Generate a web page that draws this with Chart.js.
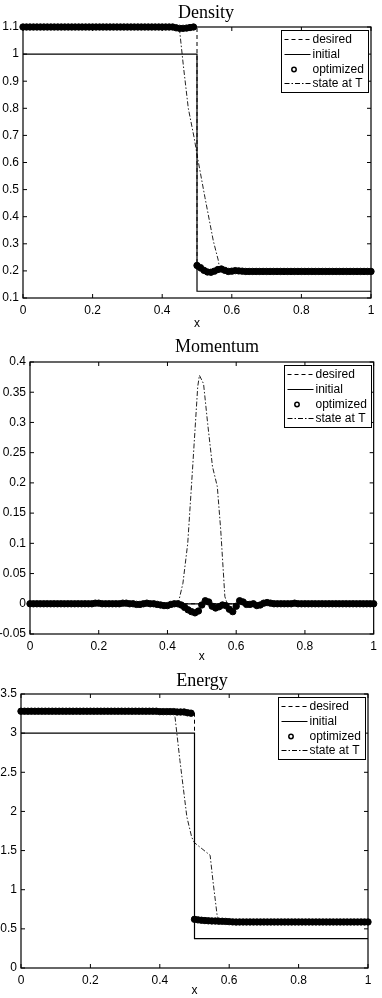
<!DOCTYPE html>
<html>
<head>
<meta charset="utf-8">
<script src="https://cdn.jsdelivr.net/npm/chart.js@4.4.0/dist/chart.umd.min.js"></script>
<style>
  html, body { margin: 0; padding: 0; background: #fff; overflow: hidden; }
  canvas { position: absolute; left: 0; }
</style>
</head>
<body>
<canvas id="c1" width="382" height="331" style="top:0px"></canvas>
<canvas id="c2" width="382" height="334" style="top:330px"></canvas>
<canvas id="c3" width="382" height="338" style="top:660px"></canvas>
<script>
// grid used for the optimized markers
const gridX = [
  0, 0.01, 0.02, 0.03, 0.04, 0.05, 0.06, 0.07, 0.08, 0.09,
  0.1, 0.11, 0.12, 0.13, 0.14, 0.15, 0.16, 0.17, 0.18, 0.19,
  0.2, 0.21, 0.22, 0.23, 0.24, 0.25, 0.26, 0.27, 0.28, 0.29,
  0.3, 0.31, 0.32, 0.33, 0.34, 0.35, 0.36, 0.37, 0.38, 0.39,
  0.4, 0.41, 0.42, 0.43, 0.44, 0.45, 0.46, 0.47, 0.48, 0.49,
  0.5, 0.51, 0.52, 0.53, 0.54, 0.55, 0.56, 0.57, 0.58, 0.59,
  0.6, 0.61, 0.62, 0.63, 0.64, 0.65, 0.66, 0.67, 0.68, 0.69,
  0.7, 0.71, 0.72, 0.73, 0.74, 0.75, 0.76, 0.77, 0.78, 0.79,
  0.8, 0.81, 0.82, 0.83, 0.84, 0.85, 0.86, 0.87, 0.88, 0.89,
  0.9, 0.91, 0.92, 0.93, 0.94, 0.95, 0.96, 0.97, 0.98, 0.99, 1
];

// Density
const densInitX = [0, 0.5, 0.5, 1];
const densInitY = [1, 1, 0.125, 0.125];
const densDesX = [0, 0.5, 0.5, 1];
const densDesY = [1.1, 1.1, 0.2, 0.2];
const densStateX = [0, 0.449, 0.461, 0.475, 0.492, 0.502, 0.523, 0.547, 0.561, 0.566, 1];
const densStateY = [1.1, 1.1, 0.955, 0.8, 0.69, 0.615, 0.47, 0.31, 0.24, 0.2, 0.2];
const densOpt = [
  1.1, 1.1, 1.1, 1.1, 1.1, 1.1, 1.1, 1.1, 1.1, 1.1,
  1.1, 1.1, 1.1, 1.1, 1.1, 1.1, 1.1, 1.1, 1.1, 1.1,
  1.1, 1.1, 1.1, 1.1, 1.1, 1.1, 1.1, 1.1, 1.1, 1.1,
  1.1, 1.1, 1.1, 1.1, 1.1, 1.1, 1.1, 1.1, 1.1, 1.1,
  1.1, 1.1, 1.1, 1.1, 1.097, 1.095, 1.095, 1.096, 1.098, 1.1,
  0.22, 0.212, 0.202, 0.196, 0.195, 0.199, 0.205, 0.207, 0.202, 0.198,
  0.199, 0.201, 0.2, 0.199, 0.198, 0.198, 0.198, 0.198, 0.198, 0.198,
  0.198, 0.198, 0.198, 0.198, 0.198, 0.198, 0.198, 0.198, 0.198, 0.198,
  0.198, 0.198, 0.198, 0.198, 0.198, 0.198, 0.198, 0.198, 0.198, 0.198,
  0.198, 0.198, 0.198, 0.198, 0.198, 0.198, 0.198, 0.198, 0.198, 0.198, 0.198
];
const densYRange = [0.1, 1.1, 0.1]; // min, max, step

// Momentum
const momInitX = [0, 1];
const momInitY = [0, 0];
const momDesX = [0, 1];
const momDesY = [0, 0];
const momStateX = [0, 0.431, 0.445, 0.459, 0.474, 0.488, 0.493, 0.505, 0.517, 0.531, 0.545, 0.555, 0.567, 0.574, 1];
const momStateY = [0, 0, 0.034, 0.1, 0.232, 0.359, 0.378, 0.364, 0.298, 0.227, 0.194, 0.122, 0.012, 0, 0];
const momOpt = [
  0, 0, 0, 0, 0, 0, 0, 0, 0, 0,
  0, 0, 0, 0, 0, 0, 0, 0, 0, 0.001,
  0.001, 0, 0, 0, 0, 0, 0, 0.001, 0.001, 0,
  0, -0.001, -0.001, 0, 0.001, 0, 0, -0.001, -0.002, -0.003,
  -0.003, -0.001, 0, 0, -0.002, -0.006, -0.01, -0.013, -0.015, -0.012,
  -0.002, 0.005, 0.003, -0.004, -0.007, -0.005, -0.002, -0.003, -0.009, -0.013,
  -0.004, 0.005, 0.003, -0.001, -0.001, 0, -0.003, -0.002, 0.001, 0.002,
  0.001, 0, 0, 0, 0, 0, 0, 0.001, 0, 0,
  0, 0, 0, 0, 0, 0, 0, 0, 0, 0,
  0, 0, 0, 0, 0, 0, 0, 0, 0, 0, 0
];
const momYRange = [-0.05, 0.4, 0.05];

// Energy
const enInitX = [0, 0.5, 0.5, 1];
const enInitY = [3, 3, 0.375, 0.375];
const enDesX = [0, 0.5, 0.5, 1];
const enDesY = [3.28, 3.28, 0.6, 0.6];
const enStateX = [0, 0.44, 0.444, 0.458, 0.478, 0.492, 0.5, 0.545, 0.553, 0.565, 0.57, 1];
const enStateY = [3.28, 3.27, 3.2, 2.65, 1.93, 1.67, 1.6, 1.44, 1.12, 0.68, 0.6, 0.59];
const enOpt = [
  3.28, 3.28, 3.28, 3.28, 3.28, 3.28, 3.28, 3.28, 3.28, 3.28,
  3.28, 3.28, 3.28, 3.28, 3.28, 3.28, 3.28, 3.28, 3.28, 3.28,
  3.28, 3.28, 3.28, 3.28, 3.28, 3.28, 3.28, 3.28, 3.28, 3.28,
  3.28, 3.28, 3.28, 3.28, 3.28, 3.28, 3.28, 3.28, 3.28, 3.28,
  3.275, 3.275, 3.275, 3.275, 3.275, 3.27, 3.27, 3.27, 3.26, 3.255,
  0.622, 0.615, 0.61, 0.606, 0.603, 0.601, 0.6, 0.598, 0.597, 0.595,
  0.592, 0.589, 0.587, 0.588, 0.588, 0.588, 0.588, 0.588, 0.588, 0.588,
  0.588, 0.588, 0.588, 0.588, 0.588, 0.588, 0.588, 0.588, 0.588, 0.588,
  0.588, 0.588, 0.588, 0.588, 0.588, 0.588, 0.588, 0.588, 0.588, 0.588,
  0.588, 0.588, 0.588, 0.588, 0.588, 0.588, 0.588, 0.588, 0.588, 0.588, 0.588
];
const enYRange = [0, 3.5, 0.5];

const xTickStep = 0.2;
const legendLabels = ['desired', 'initial', 'optimized', 'state at T'];

Chart.defaults.font.family = '"Liberation Sans", Arial, sans-serif';
Chart.defaults.font.size = 12;
Chart.defaults.color = '#000';

function toPoints(xs, ys) {
  return xs.map((x, i) => ({ x: x, y: ys[i] }));
}

function fmt(v) {
  return String(Math.round(v * 1000) / 1000);
}

// box, inward ticks, title and legend (matlab style)
const framePlugin = {
  id: 'frame',
  afterDatasetsDraw(chart) {
    const ctx = chart.ctx;
    const a = chart.chartArea;
    const xs = chart.scales.x, ys = chart.scales.y;
    ctx.save();
    ctx.strokeStyle = '#000';
    ctx.lineWidth = 1.2;
    ctx.setLineDash([]);
    ctx.strokeRect(a.left, a.top, a.right - a.left, a.bottom - a.top);
    ctx.lineWidth = 1;
    ctx.beginPath();
    xs.ticks.forEach(t => {
      const px = xs.getPixelForValue(t.value);
      ctx.moveTo(px, a.bottom); ctx.lineTo(px, a.bottom - 4);
      ctx.moveTo(px, a.top); ctx.lineTo(px, a.top + 4);
    });
    ys.ticks.forEach(t => {
      const py = ys.getPixelForValue(t.value);
      ctx.moveTo(a.left, py); ctx.lineTo(a.left + 4, py);
      ctx.moveTo(a.right, py); ctx.lineTo(a.right - 4, py);
    });
    ctx.stroke();
    ctx.restore();
  },
  afterDraw(chart, args, opts) {
    const ctx = chart.ctx;
    const a = chart.chartArea;
    ctx.save();
    // title
    ctx.fillStyle = '#000';
    ctx.font = '18px "Liberation Serif", "Times New Roman", serif';
    ctx.textAlign = 'center';
    ctx.textBaseline = 'alphabetic';
    ctx.fillText(opts.title, opts.titleX, opts.titleY);

    // legend
    const bw = 87, bh = 62;
    const bx = Math.round(a.right - 3 - bw) + 0.5;
    const by = Math.round(a.top + 3) + 0.5;
    ctx.fillStyle = '#fff';
    ctx.fillRect(bx, by, bw, bh);
    ctx.strokeStyle = '#000';
    ctx.lineWidth = 1;
    ctx.strokeRect(bx, by, bw, bh);
    const rows = [9, 24, 39, 53];
    ctx.font = '12px "Liberation Sans", Arial, sans-serif';
    ctx.textAlign = 'left';
    ctx.textBaseline = 'middle';
    chart.data.datasets.forEach((ds, i) => {
      const y = by + rows[i];
      ctx.strokeStyle = '#000';
      if (ds.showLine === false) {
        ctx.setLineDash([]);
        ctx.lineWidth = 1.5;
        ctx.beginPath();
        ctx.arc(bx + 12.5, y, 2.2, 0, Math.PI * 2);
        ctx.stroke();
      } else {
        ctx.setLineDash(ds.borderDash || []);
        ctx.lineWidth = 1;
        ctx.beginPath();
        ctx.moveTo(bx + 3, y);
        ctx.lineTo(bx + 29, y);
        ctx.stroke();
      }
      ctx.setLineDash([]);
      ctx.fillStyle = '#000';
      ctx.fillText(ds.label, bx + 31, y);
    });
    ctx.restore();
  }
};

function makePanel(id, p) {
  const canvas = document.getElementById(id);
  const W = canvas.width, H = canvas.height;
  return new Chart(canvas, {
    type: 'line',
    data: {
      datasets: [
        { label: legendLabels[0], data: toPoints(p.desX, p.desY), borderColor: '#000', borderWidth: 1,
          borderDash: [4, 3], pointRadius: 0, tension: 0 },
        { label: legendLabels[1], data: toPoints(p.initX, p.initY), borderColor: '#000', borderWidth: 1.2,
          pointRadius: 0, tension: 0 },
        { label: legendLabels[2], data: toPoints(gridX, p.opt), showLine: false, clip: false,
          pointRadius: 3.2, pointBorderWidth: 1, pointBackgroundColor: '#000', pointBorderColor: '#000',
          borderColor: '#000', backgroundColor: '#000' },
        { label: legendLabels[3], data: toPoints(p.stateX, p.stateY), borderColor: '#222', borderWidth: 1,
          borderDash: [5, 2, 1.5, 2], pointRadius: 0, tension: 0 }
      ]
    },
    options: {
      responsive: false,
      animation: false,
      events: [],
      layout: { padding: { top: p.area.t, right: W - p.area.r, left: 0, bottom: 0 } },
      plugins: {
        legend: { display: false },
        tooltip: { enabled: false },
        frame: { title: p.title, titleX: p.titleX, titleY: p.titleY }
      },
      scales: {
        x: {
          type: 'linear', min: 0, max: 1,
          grid: { display: false, drawTicks: false }, border: { display: false },
          ticks: { stepSize: xTickStep, padding: 5, maxRotation: 0, autoSkip: false, callback: fmt },
          title: { display: true, text: 'x', padding: 0, font: { size: 12 } },
          afterFit: s => { s.height = H - p.area.b; }
        },
        y: {
          type: 'linear', min: p.yRange[0], max: p.yRange[1],
          grid: { display: false, drawTicks: false }, border: { display: false },
          ticks: { stepSize: p.yRange[2], padding: 4, autoSkip: false, callback: fmt },
          afterFit: s => { s.width = p.area.l; }
        }
      }
    },
    plugins: [framePlugin]
  });
}

makePanel('c1', {
  title: 'Density', titleX: 206, titleY: 17.5,
  area: { l: 23, t: 27, r: 371, b: 298 },
  yRange: densYRange,
  desX: densDesX, desY: densDesY, initX: densInitX, initY: densInitY,
  stateX: densStateX, stateY: densStateY, opt: densOpt
});
makePanel('c2', {
  title: 'Momentum', titleX: 217, titleY: 21.5,
  area: { l: 30, t: 32, r: 378, b: 304 },
  yRange: momYRange,
  desX: momDesX, desY: momDesY, initX: momInitX, initY: momInitY,
  stateX: momStateX, stateY: momStateY, opt: momOpt
});
makePanel('c3', {
  title: 'Energy', titleX: 202, titleY: 26,
  area: { l: 21, t: 34, r: 368, b: 308 },
  yRange: enYRange,
  desX: enDesX, desY: enDesY, initX: enInitX, initY: enInitY,
  stateX: enStateX, stateY: enStateY, opt: enOpt
});
</script>
</body>
</html>
